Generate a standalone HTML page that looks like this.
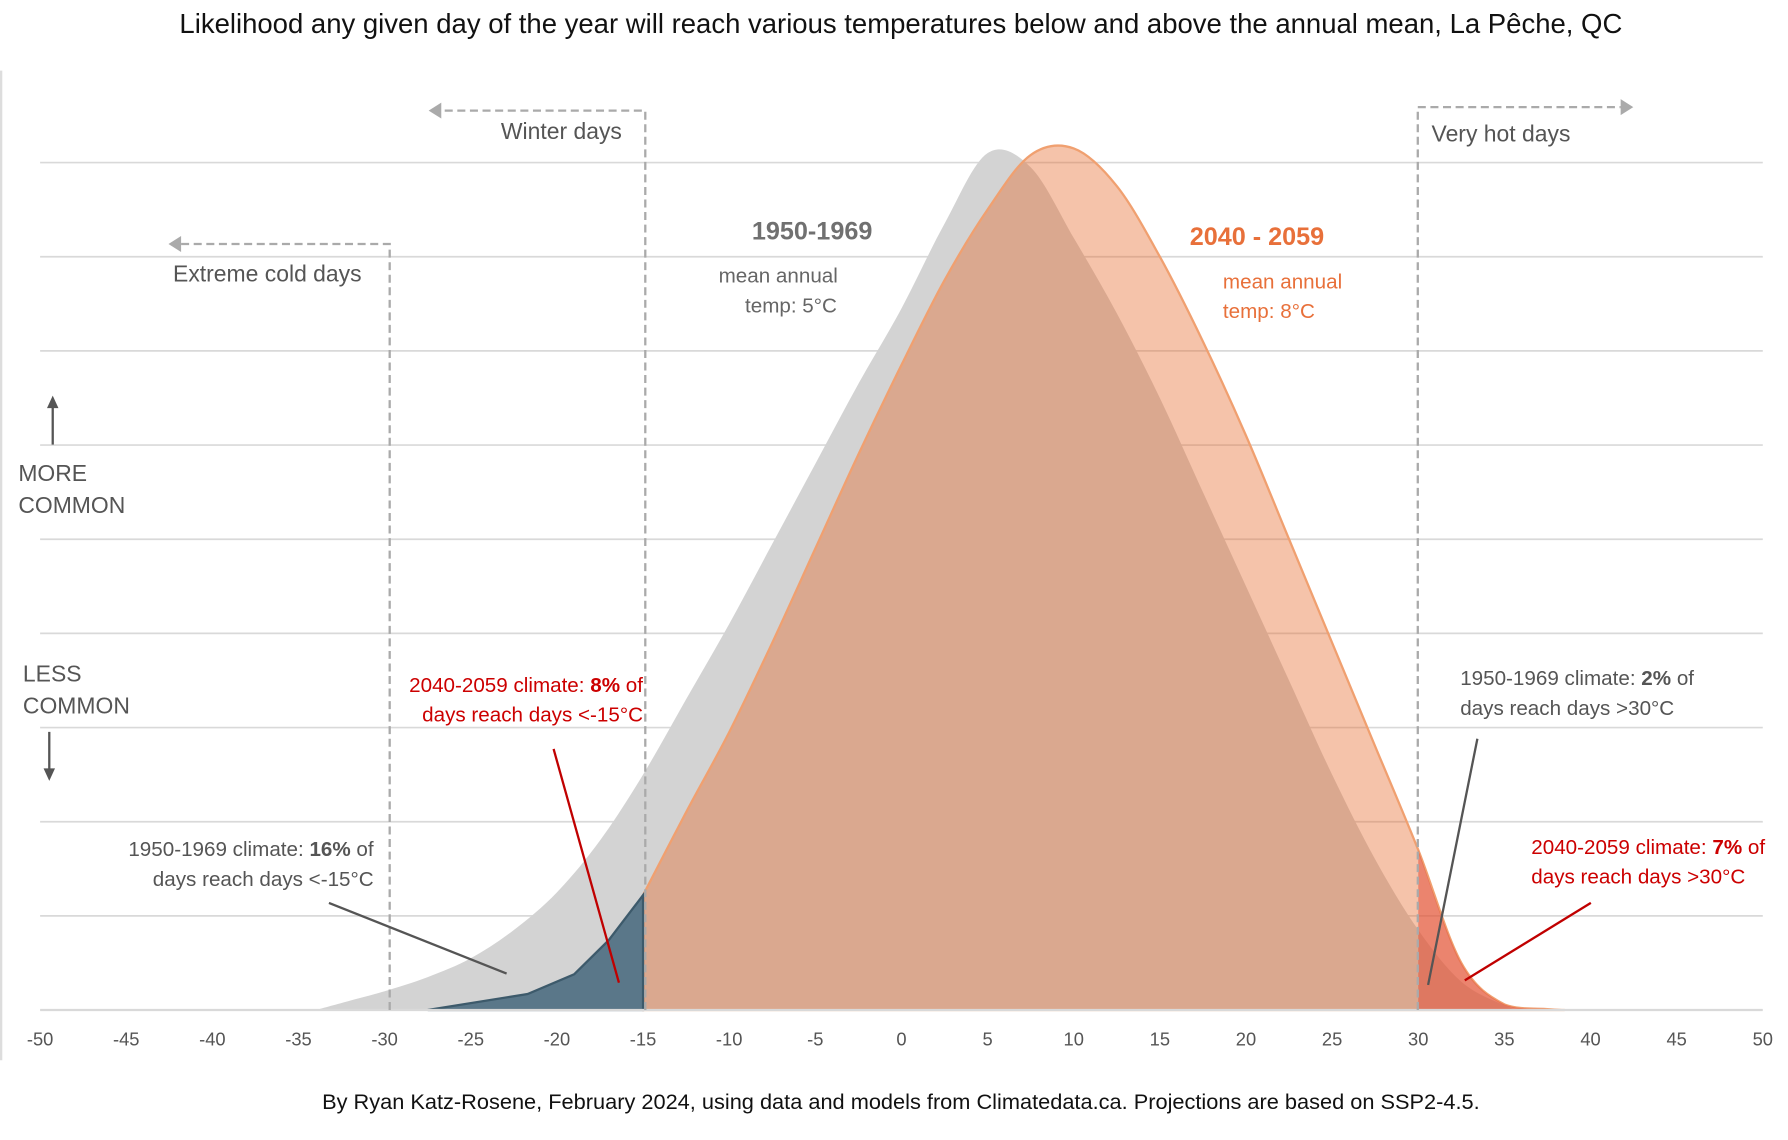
<!DOCTYPE html>
<html><head><meta charset="utf-8"><style>
html,body{margin:0;padding:0;background:#fff;}
svg{display:block;font-family:"Liberation Sans",sans-serif;}
</style></head><body>
<svg id="chart" width="1788" height="1140" viewBox="0 0 1560 1000" preserveAspectRatio="none" xmlns="http://www.w3.org/2000/svg">
<text x="786" y="29" text-anchor="middle" font-size="24" fill="#111">Likelihood any given day of the year will reach various temperatures below and above the annual mean, La Pêche, QC</text>
<line x1="1" y1="62" x2="1" y2="930" stroke="#ddd" stroke-width="2"/>
<g id="grid"></g>
<g id="marks"></g>
<g id="xticks"></g>
<g stroke="#aaa" stroke-width="2" stroke-dasharray="7 4" fill="none">
<path d="M340 886 V214 H156"/>
<path d="M563 886 V97 H384"/>
<path d="M1237 886 V94 H1414"/>
</g>
<g fill="#aaa">
<polygon points="147,214 158,207 158,221"/><polygon points="374,97 385,90 385,104"/><polygon points="1425,94 1414,87 1414,101"/>
</g>
<g font-size="20" fill="#555">
<text x="437" y="122">Winter days</text>
<text x="151" y="247">Extreme cold days</text>
<text x="1249" y="124">Very hot days</text>
</g>
<g fill="#555" font-size="20">
<line x1="46" y1="390" x2="46" y2="356" stroke="#555" stroke-width="2"/><polygon points="46,347 41,358 51,358"/>
<text x="16" y="422">MORE</text><text x="16" y="450">COMMON</text>
<text x="20" y="598">LESS</text><text x="20" y="626">COMMON</text>
<line x1="43" y1="642" x2="43" y2="676" stroke="#555" stroke-width="2"/><polygon points="43,685 38,674 48,674"/>
</g>
<g fill="#666">
<text x="656" y="210" font-size="22" font-weight="bold" fill="#707070">1950-1969</text>
<text x="627" y="248" font-size="18">mean annual</text>
<text x="650" y="274" font-size="18">temp: 5°C</text>
</g>
<g fill="#e8703a">
<text x="1038" y="215" font-size="22" font-weight="bold">2040 - 2059</text>
<text x="1067" y="253" font-size="18">mean annual</text>
<text x="1067" y="279" font-size="18">temp: 8°C</text>
</g>
<g font-size="18">
<text fill="#cc0000" text-anchor="end"><tspan x="561" y="607">2040-2059 climate: <tspan font-weight="bold">8%</tspan> of</tspan><tspan x="561" y="633">days reach days &lt;-15°C</tspan></text>
<text fill="#555" text-anchor="end"><tspan x="326" y="751">1950-1969 climate: <tspan font-weight="bold">16%</tspan> of</tspan><tspan x="326" y="777">days reach days &lt;-15°C</tspan></text>
<text fill="#555"><tspan x="1274" y="601">1950-1969 climate: <tspan font-weight="bold">2%</tspan> of</tspan><tspan x="1274" y="627">days reach days &gt;30°C</tspan></text>
<text fill="#cc0000"><tspan x="1336" y="749">2040-2059 climate: <tspan font-weight="bold">7%</tspan> of</tspan><tspan x="1336" y="775">days reach days &gt;30°C</tspan></text>
</g>
<g stroke-width="2">
<line x1="483" y1="657" x2="540" y2="862" stroke="#c00000"/>
<line x1="287" y1="792" x2="442" y2="854" stroke="#555"/>
<line x1="1289" y1="648" x2="1246" y2="864" stroke="#555"/>
<line x1="1388" y1="792" x2="1278" y2="860" stroke="#c00000"/>
</g>
<text x="786" y="973" text-anchor="middle" font-size="19" fill="#111">By Ryan Katz-Rosene, February 2024, using data and models from Climatedata.ca. Projections are based on SSP2-4.5.</text>
</svg>
<script>
const xTicks=[-50,-45,-40,-35,-30,-25,-20,-15,-10,-5,0,5,10,15,20,25,30,35,40,45,50];
const gridLevels=[1,2,3,4,5,6,7,8,9];
const tempsHist=[-34,-32,-30,-27.5,-25,-22.5,-20,-17.5,-15,-12.5,-10,-7.5,-5,-2.5,0,2.5,5,7.5,10,12.5,15,17.5,20,22.5,25,27.5,30,32.5,35,36];
const valsHist=[0,0.1,0.2,0.35,0.55,0.85,1.25,1.8,2.5,3.3,4.1,4.95,5.8,6.65,7.45,8.35,9.1,8.95,8.2,7.4,6.5,5.5,4.5,3.5,2.5,1.6,0.85,0.3,0.05,0];
const tempsFut=[-27.5,-21.7,-19,-17,-15,-12.5,-10,-7.5,-5,-2.5,0,2.5,5,7.5,10,12.5,15,17.5,20,22.5,25,27.5,30,32.5,35,37.5,38.5];
const valsFut=[0,0.17,0.38,0.74,1.22,2.1,2.95,3.9,4.9,5.9,6.85,7.75,8.5,9.08,9.15,8.75,8.0,7.1,6.1,5.0,3.9,2.8,1.7,0.5,0.06,0.01,0];
const coldThreshold=-15, hotThreshold=30;
const NS="http://www.w3.org/2000/svg";
const X=t=>35+(t+50)*15.03;
const Y=v=>886-v*82.6;
function mk(tag,attrs,parent){const e=document.createElementNS(NS,tag);for(const k in attrs)e.setAttribute(k,attrs[k]);parent.appendChild(e);return e;}
function smooth(pts){let d="M"+pts[0][0]+" "+pts[0][1];for(let i=0;i<pts.length-1;i++){const p0=pts[i-1]||pts[i],p1=pts[i],p2=pts[i+1],p3=pts[i+2]||p2;
const c1=[p1[0]+(p2[0]-p0[0])/6,Math.min(886,p1[1]+(p2[1]-p0[1])/6)],c2=[p2[0]-(p3[0]-p1[0])/6,Math.min(886,p2[1]-(p3[1]-p1[1])/6)];
d+=" C"+c1[0]+" "+c1[1]+" "+c2[0]+" "+c2[1]+" "+p2[0]+" "+p2[1];}return d;}
function interp(ts,vs,t){for(let i=0;i<ts.length-1;i++){if(t>=ts[i]&&t<=ts[i+1]){return vs[i]+(vs[i+1]-vs[i])*(t-ts[i])/(ts[i+1]-ts[i]);}}return 0;}
function segPts(ts,vs,a,b){const p=[[X(a),Y(interp(ts,vs,a))]];ts.forEach((t,i)=>{if(t>a&&t<b)p.push([X(t),Y(vs[i])]);});p.push([X(b),Y(interp(ts,vs,b))]);return p;}
const grid=document.getElementById('grid');
gridLevels.forEach(g=>{const l=mk('line',{x1:35,x2:1538,y1:Y(g),y2:Y(g),stroke:'#d9d9d9','stroke-width':1.5},grid);

});
const marks=document.getElementById('marks');
const hp=tempsHist.map((t,i)=>[X(t),Y(valsHist[i])]);
const hist=mk('path',{d:smooth(hp)+" Z",fill:'#d3d3d3'},marks);


const fp=segPts(tempsFut,valsFut,coldThreshold,tempsFut[tempsFut.length-1]);
const fut=mk('path',{d:smooth(fp)+" L"+X(coldThreshold)+" "+Y(0)+" Z",fill:'rgb(231,105,42)','fill-opacity':0.4,stroke:'#f0a070','stroke-width':2},marks);


const cp=segPts(tempsFut,valsFut,tempsFut[0],coldThreshold);
const cold=mk('path',{d:"M"+cp.map(p=>p.join(" ")).join(" L")+" L"+X(coldThreshold)+" "+Y(0)+" Z",fill:'#5a7789',stroke:'#3d5a6b','stroke-width':2},marks);


const hp2=segPts(tempsFut,valsFut,hotThreshold,tempsFut[tempsFut.length-1]);
const hot=mk('path',{d:smooth(hp2)+" L"+X(hotThreshold)+" "+Y(0)+" Z",fill:'rgb(225,80,60)','fill-opacity':0.55},marks);


const base=mk('line',{x1:35,x2:1538,y1:Y(0),y2:Y(0),stroke:'#d9d9d9','stroke-width':2},marks);


const xt=document.getElementById('xticks');
xTicks.forEach(t=>{const e=mk('text',{x:X(t),y:917,'text-anchor':'middle','font-size':16,fill:'#555'},xt);e.textContent=t;

});
</script>
</body></html>
